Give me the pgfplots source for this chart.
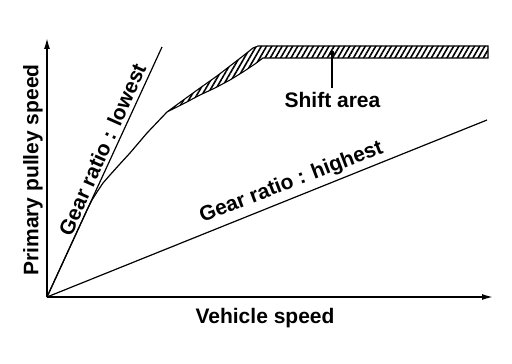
\documentclass[border=0pt]{standalone}
\usepackage{fontspec}
\setmainfont{Liberation Sans}
\usepackage{pgfplots}
\pgfplotsset{compat=1.18}
\usetikzlibrary{arrows.meta,patterns.meta}
\begin{document}
\begin{tikzpicture}
\path[use as bounding box] (-47bp,-67bp) rectangle (465bp,297bp);
\begin{axis}[
  scale only axis,
  width=446bp, height=259bp,
  xmin=0, xmax=446, ymin=0, ymax=259,
  axis lines=left,
  axis line style={line width=1.4bp, -{Latex[length=11bp,width=6bp]}},
  xtick=\empty, ytick=\empty,
  clip=false,
]
% gear ratio lowest
\addplot[black, line width=1.2bp] coordinates {(0,0) (115,250)};
% gear ratio highest
\addplot[black, line width=1.2bp] coordinates {(0,0) (440,177)};
% actual shift curve
\addplot[black, line width=1.2bp] coordinates {
 (0,0) (40,87) (45,97) (50,105) (56,114) (63,122) (72,132) (83,144) (100,164) (120,185)};
% shift area
\addplot[draw=black, line width=1.1bp,
  pattern={Lines[angle=60,distance=4.5bp,line width=1.6bp]}] coordinates {
 (120,185) (135,196) (153,209) (170,221) (183,231) (196,241) (206,249) (211,251) (441,251)
 (441,239) (216,239) (208,233) (196,225) (183,217) (168,209) (153,202) (136,193) (120,185)} -- cycle;
% pointer
\addplot[black, line width=1.2bp] coordinates {(285,244) (285,209)};
\addplot[black, only marks, mark=*, mark size=2.2bp] coordinates {(285,244)};
% labels
\node[font=\fontsize{21bp}{24bp}\selectfont\bfseries, anchor=base] at (axis cs:285.5,189) {Shift area};
\node[font=\fontsize{21bp}{24bp}\selectfont\bfseries, anchor=base] at (axis cs:218,-26) {Vehicle speed};
\node[font=\fontsize{21bp}{24bp}\selectfont\bfseries, anchor=base, rotate=90] at (axis cs:-8.7,127) {Primary pulley speed};
\node[font=\fontsize{21bp}{24bp}\selectfont\bfseries, anchor=base, rotate=66] at (axis cs:62,144.5) {Gear ratio : lowest};
\node[font=\fontsize{21bp}{24bp}\selectfont\bfseries, anchor=base, rotate=21] at (axis cs:246.3,109.5) {Gear ratio : highest};
\end{axis}
\end{tikzpicture}
\end{document}
